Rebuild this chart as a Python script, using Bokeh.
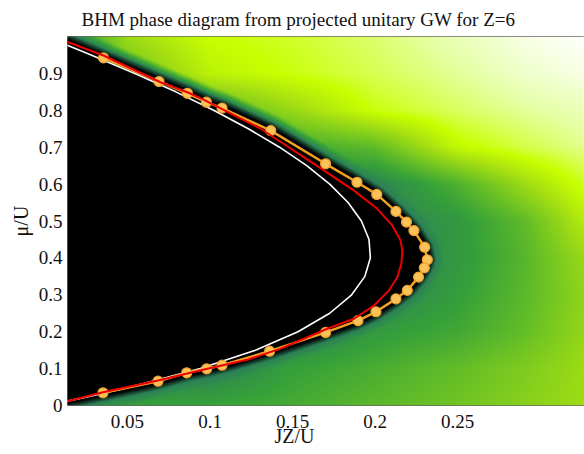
import numpy as np
from bokeh.plotting import figure
from bokeh.models import FixedTicker, Range1d, Title
from bokeh.embed import file_html
from bokeh.resources import INLINE

# ---------------- data ----------------
x_start, x_end = 0.0137, 0.3268
y_start, y_end = 0.0, 1.0

title_text = "BHM phase diagram from projected unitary GW for Z=6"
x_label = "JZ/U"
y_label = "\u03bc/U"

x_ticks = [0.05, 0.1, 0.15, 0.2, 0.25]
x_tick_labels = ["0.05", "0.1", "0.15", "0.2", "0.25"]
y_ticks = [0.0, 0.1, 0.2, 0.3, 0.4, 0.5, 0.6, 0.7, 0.8, 0.9]
y_tick_labels = ["0", "0.1", "0.2", "0.3", "0.4", "0.5", "0.6", "0.7", "0.8", "0.9"]

# projected unitary GW phase boundary (orange points)
gw_jz = [0.0355, 0.0691, 0.0863, 0.0978, 0.1073, 0.1368, 0.170, 0.189, 0.201,
         0.2126, 0.219, 0.2235, 0.230, 0.2316, 0.2298, 0.2263, 0.2195, 0.2126,
         0.2005, 0.1896, 0.170, 0.1361, 0.1073, 0.098, 0.0859, 0.0685, 0.0352]
gw_mu = [0.942, 0.878, 0.846, 0.822, 0.806, 0.745, 0.655, 0.605, 0.572,
         0.526, 0.497, 0.474, 0.429, 0.395, 0.373, 0.348, 0.312, 0.289,
         0.254, 0.230, 0.198, 0.1472, 0.1092, 0.0995, 0.0886, 0.0659, 0.0344]

# red boundary
red_jz = [0.0137, 0.0355, 0.070, 0.0863, 0.0964, 0.1307, 0.163, 0.187, 0.2013,
          0.2104, 0.2154, 0.2165, 0.2159, 0.2135, 0.2084, 0.1993, 0.1872, 0.171,
          0.1428, 0.1226, 0.0984, 0.0685, 0.0352, 0.0137]
red_mu = [0.985, 0.9485, 0.876, 0.849, 0.828, 0.750, 0.655, 0.583, 0.533,
          0.488, 0.447, 0.420, 0.384, 0.348, 0.312, 0.271, 0.235, 0.208,
          0.154, 0.124, 0.0994, 0.068, 0.036, 0.0117]

# white (plain mean-field) boundary
white_mu = [0.01, 0.02, 0.05, 0.10, 0.15, 0.20, 0.25, 0.30, 0.35, 0.40, 0.45,
            0.50, 0.55, 0.60, 0.65, 0.70, 0.75, 0.80, 0.85, 0.90, 0.95, 0.98]
white_jz = [0.0113, 0.0221, 0.0520, 0.0941, 0.1275, 0.1533, 0.1725, 0.1858,
            0.1938, 0.1971, 0.1963, 0.1917, 0.1836, 0.1725, 0.1586, 0.1421,
            0.1232, 0.1022, 0.0793, 0.0545, 0.0280, 0.0114]

# background field: coarse grid of colour levels
grid_jz = [0.0137, 0.05, 0.10, 0.15, 0.20, 0.25, 0.29, 0.3268]
grid_mu = [0.0, 0.1, 0.2, 0.3, 0.4, 0.5, 0.6, 0.7, 0.8, 0.9, 1.0]
level_mu00 = [0.41, 0.41, 0.43, 0.46, 0.51, 0.56, 0.61, 0.66]
level_mu01 = [0.30, 0.30, 0.30, 0.42, 0.47, 0.53, 0.59, 0.66]
level_mu02 = [0.30, 0.30, 0.30, 0.30, 0.40, 0.45, 0.53, 0.64]
level_mu03 = [0.30, 0.30, 0.30, 0.30, 0.30, 0.41, 0.51, 0.63]
level_mu04 = [0.30, 0.30, 0.30, 0.30, 0.30, 0.39, 0.50, 0.65]
level_mu05 = [0.30, 0.30, 0.30, 0.30, 0.30, 0.39, 0.52, 0.72]
level_mu06 = [0.30, 0.30, 0.30, 0.30, 0.32, 0.48, 0.66, 0.80]
level_mu07 = [0.30, 0.30, 0.35, 0.45, 0.52, 0.76, 0.83, 0.88]
level_mu08 = [0.30, 0.40, 0.50, 0.65, 0.79, 0.85, 0.89, 0.92]
level_mu09 = [0.40, 0.55, 0.74, 0.79, 0.84, 0.89, 0.94, 0.97]
level_mu10 = [0.36, 0.66, 0.78, 0.81, 0.86, 0.92, 0.97, 1.00]

cmap_pos = [0.0, 0.15, 0.30, 0.42, 0.55, 0.68, 0.78, 0.90, 1.0]
cmap_hex = ["#000000", "#10301f", "#2c8058", "#35a03a", "#6cc224",
            "#a6e012", "#c8ff00", "#e6ffa6", "#ffffff"]

# ---------------- background raster ----------------
nx, ny = 517, 369
px_per_x = nx / (x_end - x_start)
px_per_y = ny / (y_end - y_start)
xs = x_start + (np.arange(nx) + 0.5) / px_per_x
ys = y_start + (np.arange(ny) + 0.5) / px_per_y
X, Y = np.meshgrid(xs, ys)

gx = np.array(grid_jz)
gy = np.array(grid_mu)
G = np.array([level_mu00, level_mu01, level_mu02, level_mu03, level_mu04, level_mu05,
              level_mu06, level_mu07, level_mu08, level_mu09, level_mu10])
ix = np.clip(np.searchsorted(gx, xs) - 1, 0, len(gx) - 2)
tx = np.clip((xs - gx[ix]) / (gx[ix + 1] - gx[ix]), 0, 1)
iy = np.clip(np.searchsorted(gy, ys) - 1, 0, len(gy) - 2)
ty = np.clip((ys - gy[iy]) / (gy[iy + 1] - gy[iy]), 0, 1)
IX, IY = np.meshgrid(ix, iy)
TX, TY = np.meshgrid(tx, ty)
base = (G[IY, IX] * (1 - TX) * (1 - TY) + G[IY, IX + 1] * TX * (1 - TY)
        + G[IY + 1, IX] * (1 - TX) * TY + G[IY + 1, IX + 1] * TX * TY)

# lobe boundary polyline (orange points, extended to the axis)
bx = np.array([0.0] + gw_jz + [0.0])
by = np.array([1.01] + gw_mu + [0.001])
PX, PY = X * px_per_x, Y * px_per_y
dist = np.full(X.shape, 1e9)
for k in range(len(bx) - 1):
    ax_, ay_ = bx[k] * px_per_x, by[k] * px_per_y
    bx_, by_ = bx[k + 1] * px_per_x, by[k + 1] * px_per_y
    vx, vy = bx_ - ax_, by_ - ay_
    t = np.clip(((PX - ax_) * vx + (PY - ay_) * vy) / (vx * vx + vy * vy), 0, 1)
    dd = np.hypot(PX - (ax_ + t * vx), PY - (ay_ + t * vy))
    dist = np.minimum(dist, dd)
order = np.argsort(by)
xb = np.interp(Y, by[order], bx[order], left=0.0, right=0.0)
inside = X < xb
sd = np.where(inside, -dist, dist)

ramp = np.clip((sd - 8) / 9.0, 0, 1)
lev = 0.30 + (base - 0.30) * ramp
cols = np.array([[int(h[i:i + 2], 16) for i in (1, 3, 5)] for h in cmap_hex], dtype=float)
r = np.interp(lev, cmap_pos, cols[:, 0])
g = np.interp(lev, cmap_pos, cols[:, 1])
b = np.interp(lev, cmap_pos, cols[:, 2])
halo = np.clip((sd - 3) / 6.0, 0, 1)
r, g, b = r * halo, g * halo, b * halo

img = np.empty((ny, nx), dtype=np.uint32)
view = img.view(dtype=np.uint8).reshape((ny, nx, 4))
view[:, :, 0] = np.round(r).astype(np.uint8)
view[:, :, 1] = np.round(g).astype(np.uint8)
view[:, :, 2] = np.round(b).astype(np.uint8)
view[:, :, 3] = 255

# ---------------- figure ----------------
font = "Liberation Serif"
p = figure(frame_width=517, frame_height=369, x_range=Range1d(x_start, x_end),
           y_range=Range1d(y_start, y_end), output_backend="svg",
           toolbar_location=None, min_border_left=67, min_border_right=0,
           min_border_top=36, min_border_bottom=49)
p.xgrid.visible = False
p.ygrid.visible = False
p.outline_line_color = "#666666"
p.outline_line_width = 1

p.title.text = title_text
p.title.align = "left"
p.title.offset = 14
p.title.vertical_align = "middle"
p.title.text_font = font
p.title.text_font_size = "19px"
p.title.text_font_style = "normal"
p.title.text_color = "#111111"
p.title.standoff = 12

p.image_rgba(image=[img], x=x_start, y=y_start, dw=x_end - x_start, dh=y_end - y_start)

p.line(white_jz, white_mu, line_color="#ffffff", line_width=1.6)
p.line(gw_jz, gw_mu, line_color="#f2a11f", line_width=2.5)
p.scatter(gw_jz, gw_mu, size=10, fill_color="#fbc257", line_color="#f0a030", line_width=1.2)
p.line(red_jz, red_mu, line_color="#ee0000", line_width=2)

for ax in (p.xaxis, p.yaxis):
    ax.axis_line_color = None
    ax.major_tick_line_color = None
    ax.minor_tick_line_color = None
    ax.major_tick_out = 0
    ax.major_tick_in = 0
    ax.minor_tick_out = 0
    ax.minor_tick_in = 0
    ax.major_label_text_font = font
    ax.major_label_text_font_size = "19px"
    ax.major_label_text_color = "#111111"
    ax.axis_label_text_font = font
    ax.axis_label_text_font_style = "normal"
    ax.axis_label_text_font_size = "20px"
    ax.axis_label_text_color = "#111111"

p.xaxis.ticker = FixedTicker(ticks=x_ticks)
p.xaxis.major_label_overrides = {t: l for t, l in zip(x_ticks, x_tick_labels)}
p.xaxis.major_label_standoff = 9
p.yaxis.ticker = FixedTicker(ticks=y_ticks)
p.yaxis.major_label_overrides = {t: l for t, l in zip(y_ticks, y_tick_labels)}
p.yaxis.major_label_standoff = 5
p.yaxis.axis_label = y_label
p.yaxis.axis_label_standoff = 4

x_title = Title(text=x_label, align="left", offset=207, vertical_align="top",
                standoff=-12, text_font=font, text_font_size="20px",
                text_font_style="normal", text_color="#111111")
p.add_layout(x_title, "below")

open("out.html", "w").write(file_html(p, INLINE))
